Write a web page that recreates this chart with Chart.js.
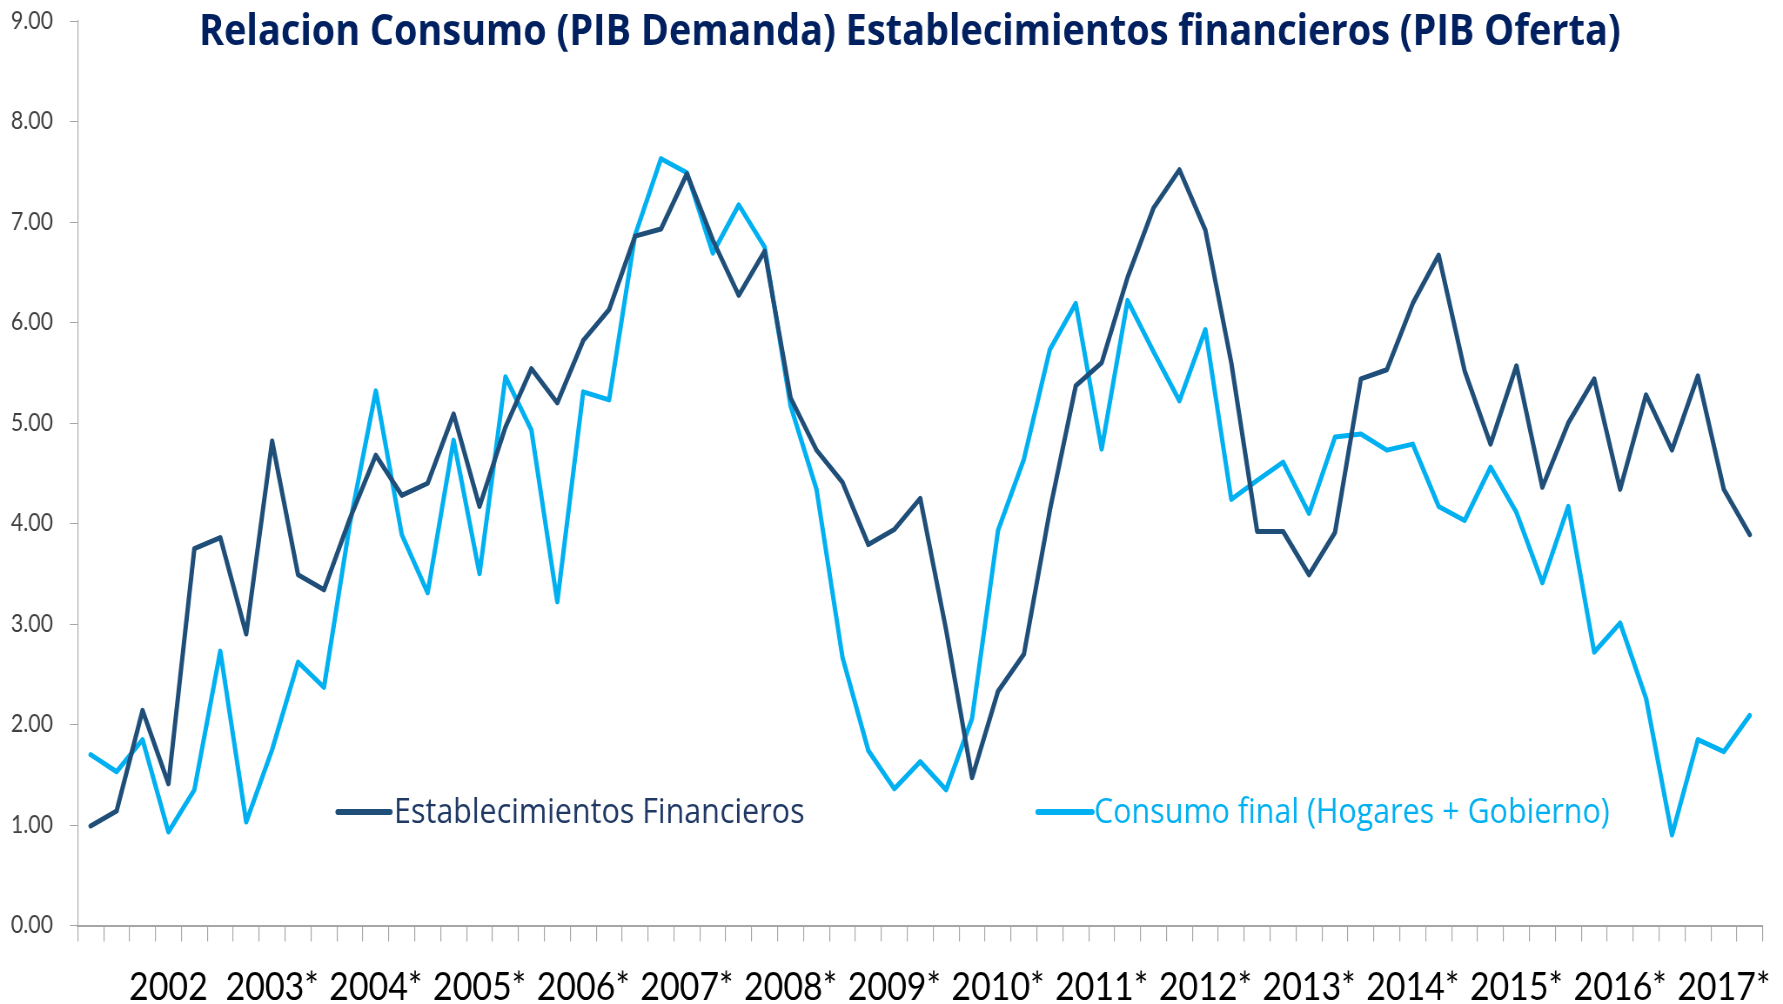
<!DOCTYPE html>
<html>
<head>
<meta charset="utf-8">
<script src="https://cdn.jsdelivr.net/npm/chart.js@4/dist/chart.umd.min.js"></script>
<style>html,body{margin:0;padding:0;background:#fff;overflow:hidden}</style>
</head>
<body>
<canvas id="c" width="2049" height="1004" style="width:1783px;height:1004px;display:block"></canvas>
<script>
// ---- data ----
const chartTitle = 'Relacion Consumo (PIB Demanda) Establecimientos financieros (PIB Oferta)';
const yearLabels = ['2002','2003*','2004*','2005*','2006*','2007*','2008*','2009*','2010*','2011*','2012*','2013*','2014*','2015*','2016*','2017*'];
const seriesNames = ['Establecimientos Financieros', 'Consumo final (Hogares + Gobierno)'];
const financieros = [0.99,1.14,2.14,1.41,3.75,3.86,2.90,4.82,3.49,3.34,4.05,4.68,4.28,4.40,5.09,4.17,4.96,5.54,5.20,5.82,6.13,6.86,6.93,7.48,6.82,6.27,6.71,5.25,4.73,4.41,3.79,3.94,4.25,2.94,1.47,2.33,2.70,4.13,5.37,5.60,6.45,7.14,7.52,6.92,5.60,3.92,3.92,3.49,3.91,5.44,5.53,6.19,6.67,5.52,4.79,5.57,4.36,5.00,5.44,4.34,5.28,4.73,5.47,4.34,3.89];
const consumo = [1.70,1.53,1.85,0.93,1.35,2.73,1.03,1.75,2.62,2.37,4.00,5.32,3.89,3.31,4.83,3.50,5.46,4.93,3.22,5.31,5.23,6.87,7.63,7.49,6.69,7.17,6.75,5.17,4.34,2.67,1.74,1.36,1.63,1.35,2.06,3.93,4.64,5.73,6.19,4.74,6.22,5.71,5.22,5.93,4.24,4.43,4.61,4.10,4.86,4.89,4.73,4.79,4.17,4.03,4.56,4.11,3.41,4.17,2.72,3.01,2.26,0.90,1.85,1.73,2.09];
// one category per quarter; the year label sits on the 4th quarter slot of each group
const categories = financieros.map((_, i) => (i % 4 === 3 ? (yearLabels[(i - 3) / 4] || '') : ''));

// ---- layout helpers (canvas is drawn wider and shown horizontally condensed) ----
const SQ = 1783 / 2049;
const fx = v => v / SQ;
const AXIS_GRAY = '#A6A6A6';

const overlayPlugin = {
  id: 'overlay',
  afterDraw(chart) {
    const ctx = chart.ctx;
    ctx.save();
    // title
    ctx.font = 'bold 43.5px "Open Sans"';
    ctx.fillStyle = '#002060';
    ctx.textAlign = 'left';
    ctx.textBaseline = 'alphabetic';
    ctx.fillText(chartTitle, fx(199), 45);
    // legend inside plot
    const spots = [
      {x1: 338, x2: 390, tx: 394, text: '#1F3864'},
      {x1: 1038, x2: 1092, tx: 1094, text: '#00B0F0'}
    ];
    chart.data.datasets.forEach((ds, i) => {
      const s = spots[i];
      ctx.beginPath();
      ctx.strokeStyle = ds.borderColor;
      ctx.lineWidth = 6;
      ctx.lineCap = 'round';
      ctx.moveTo(fx(s.x1), 812);
      ctx.lineTo(fx(s.x2), 812);
      ctx.stroke();
      ctx.font = '35px "Open Sans"';
      ctx.fillStyle = s.text;
      ctx.fillText(ds.label, fx(s.tx), 822.5);
    });
    ctx.restore();
  }
};

new Chart(document.getElementById('c'), {
  type: 'line',
  data: {
    labels: categories,
    datasets: [
      {label: seriesNames[0], data: financieros, borderColor: '#1F4E79', borderWidth: 5, pointRadius: 0, tension: 0, borderJoinStyle: 'round', borderCapStyle: 'round'},
      {label: seriesNames[1], data: consumo, borderColor: '#00B0F0', borderWidth: 5, pointRadius: 0, tension: 0, borderJoinStyle: 'round', borderCapStyle: 'round'}
    ]
  },
  options: {
    responsive: false,
    devicePixelRatio: 1,
    animation: false,
    layout: {padding: {top: 21, right: 2049 - fx(1762.7), left: 0, bottom: 0}},
    plugins: {legend: {display: false}, tooltip: {enabled: false}, title: {display: false}},
    scales: {
      x: {
        type: 'category',
        offset: true,
        grid: {offset: true, drawOnChartArea: false, drawTicks: true, tickLength: 16, color: AXIS_GRAY, lineWidth: 1.15},
        border: {color: AXIS_GRAY, width: 2},
        ticks: {autoSkip: false, maxRotation: 0, minRotation: 0, padding: 23, color: '#000000', font: {family: 'Lato', size: 39}},
        afterFit(scale) { scale.height = 1004 - 925.5; }
      },
      y: {
        min: 0, max: 9,
        grid: {drawOnChartArea: false, drawTicks: true, tickLength: 9, color: AXIS_GRAY, lineWidth: 1},
        border: {color: AXIS_GRAY, width: 1.15},
        ticks: {stepSize: 1, padding: 19.4, color: '#404040', font: {family: 'Lato', size: 24.5}, callback: v => Number(v).toFixed(2)},
        afterFit(scale) { scale.width = fx(77.7); scale.paddingTop = 0; scale.paddingBottom = 0; }
      }
    }
  },
  plugins: [overlayPlugin]
});
</script>
</body>
</html>
